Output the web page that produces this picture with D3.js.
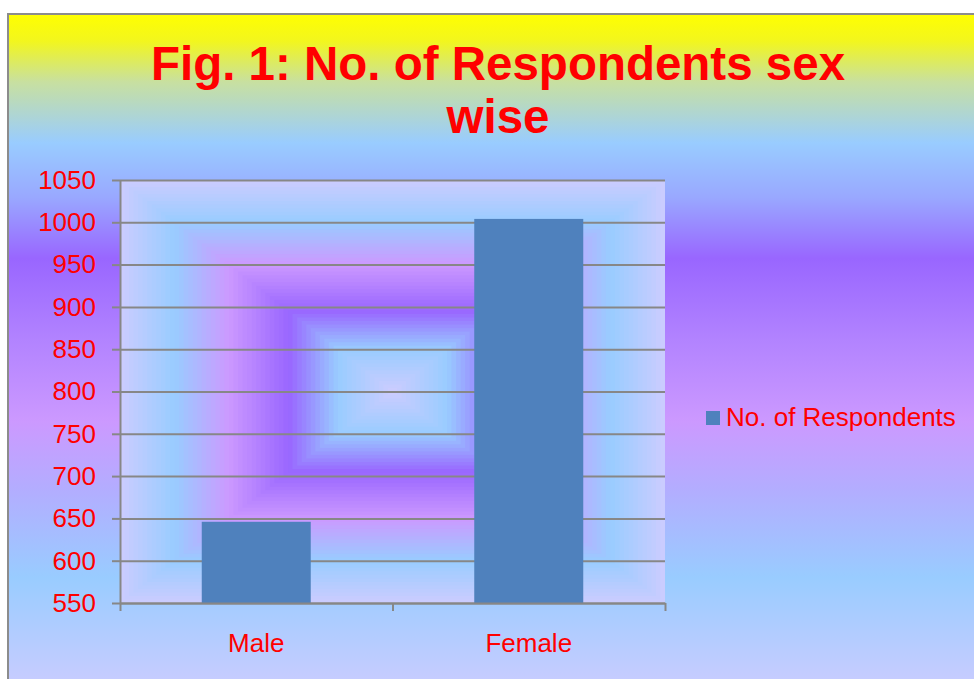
<!DOCTYPE html>
<html>
<head>
<meta charset="utf-8">
<script src="https://cdn.jsdelivr.net/npm/d3@7"></script>
<style>
  html, body { margin: 0; padding: 0; background: #fff; }
  svg { display: block; font-family: "Liberation Sans", Arial, sans-serif; }
</style>
</head>
<body>
<svg id="chart" width="974" height="679"></svg>
<script>
const categories = ["Male", "Female"];
const respondents = [646, 1004];
const seriesName = "No. of Respondents";
const yTicks = [550, 600, 650, 700, 750, 800, 850, 900, 950, 1000, 1050];
const titleLines = ["Fig. 1: No. of Respondents sex", "wise"];

function renderChart() {
    const svg = d3.select("#chart");
    svg.selectAll("*").remove();

    const width = 974, height = 679;
    const plot = { left: 120, right: 665, top: 180, bottom: 603 };

    const defs = svg.append("defs");

    // outer chart background, vertical multi-stop gradient
    const bg = defs.append("linearGradient")
        .attr("id", "bgGrad")
        .attr("x1", 0).attr("y1", 0).attr("x2", 0).attr("y2", 1);
    const bgStops = [
        [0.00, "#FFFF00"],
        [0.04, "#F2F61E"],
        [0.10, "#C8E0A0"],
        [0.19, "#99CCFF"],
        [0.27, "#99A8FF"],
        [0.36, "#9966FF"],
        [0.48, "#B283FF"],
        [0.60, "#CC99FF"],
        [0.70, "#B3ADFF"],
        [0.83, "#99CCFF"],
        [1.00, "#CCCCFF"]
    ];
    bgStops.forEach(s => bg.append("stop").attr("offset", s[0]).attr("stop-color", s[1]));

    svg.append("rect")
        .attr("x", 8).attr("y", 14)
        .attr("width", width).attr("height", height)
        .attr("fill", "url(#bgGrad)")
        .attr("stroke", "#8c8c8c")
        .attr("stroke-width", 2);

    // plot area: rectangular "box" gradient made of nested rects
    const ringColor = d3.scaleLinear()
        .domain([0, 0.2, 0.38, 0.6, 0.8, 1])
        .range(["#CCCCFF", "#99CCFF", "#9966FF", "#CC99FF", "#99CCFF", "#CCCCFF"])
        .interpolate(d3.interpolateRgb);
    const cx = (plot.left + plot.right) / 2, cy = (plot.top + plot.bottom) / 2;
    const hw = (plot.right - plot.left) / 2, hh = (plot.bottom - plot.top) / 2;
    const rings = d3.range(60, 0, -1).map(i => i / 60);
    svg.append("g").selectAll("rect")
        .data(rings)
        .enter().append("rect")
        .attr("x", t => cx - t * hw)
        .attr("y", t => cy - t * hh)
        .attr("width", t => 2 * t * hw)
        .attr("height", t => 2 * t * hh)
        .attr("fill", t => ringColor(t - 1 / 120));

    const x = d3.scaleBand()
        .domain(categories)
        .range([plot.left, plot.right])
        .paddingInner(0.6)
        .paddingOuter(0.3);

    const y = d3.scaleLinear()
        .domain([d3.min(yTicks), d3.max(yTicks)])
        .range([plot.bottom, plot.top]);

    // gridlines
    svg.append("g")
        .attr("transform", `translate(${plot.left},0)`)
        .call(d3.axisLeft(y).tickValues(yTicks).tickSize(-(plot.right - plot.left)).tickFormat(""))
        .call(g => g.select(".domain").remove())
        .call(g => g.selectAll("line").attr("stroke", "#878787").attr("stroke-width", 2));

    // bars
    svg.append("g").selectAll(".bar")
        .data(categories)
        .enter().append("rect")
        .attr("class", "bar")
        .attr("x", d => x(d))
        .attr("y", (d, i) => y(respondents[i]))
        .attr("width", x.bandwidth())
        .attr("height", (d, i) => plot.bottom - y(respondents[i]))
        .attr("fill", "#4F81BD");

    // y axis
    const yAxis = svg.append("g")
        .attr("transform", `translate(${plot.left},0)`)
        .call(d3.axisLeft(y).tickValues(yTicks).tickFormat(d3.format("d"))
            .tickSize(8).tickPadding(16).tickSizeOuter(0));
    yAxis.select(".domain").attr("stroke", "#878787").attr("stroke-width", 2);
    yAxis.selectAll("line").attr("stroke", "#878787").attr("stroke-width", 2);
    yAxis.selectAll("text")
        .attr("fill", "#FF0000")
        .attr("font-size", "26px")
        .attr("font-family", "Liberation Sans, Arial, sans-serif");

    // x axis (ticks between categories)
    const xEdges = d3.scaleLinear().domain([0, categories.length]).range([plot.left, plot.right]);
    const xAxis = svg.append("g")
        .attr("transform", `translate(0,${plot.bottom})`)
        .call(d3.axisBottom(xEdges).tickValues(d3.range(categories.length + 1)).tickSize(8).tickFormat("").tickSizeOuter(0));
    xAxis.select(".domain").attr("stroke", "#878787").attr("stroke-width", 2);
    xAxis.selectAll("line").attr("stroke", "#878787").attr("stroke-width", 2);

    svg.append("g").selectAll(".catLabel")
        .data(categories)
        .enter().append("text")
        .attr("class", "catLabel")
        .attr("x", d => x(d) + x.bandwidth() / 2)
        .attr("y", 652)
        .attr("text-anchor", "middle")
        .attr("fill", "#FF0000")
        .attr("font-size", "26px")
        .text(d => d);

    // title
    svg.append("g").selectAll(".title")
        .data(titleLines)
        .enter().append("text")
        .attr("class", "title")
        .attr("x", 498)
        .attr("y", (d, i) => 80 + i * 53)
        .attr("text-anchor", "middle")
        .attr("fill", "#FF0000")
        .attr("font-size", "47.5px")
        .attr("font-weight", "bold")
        .text(d => d);

    // legend
    const legend = svg.append("g").attr("transform", "translate(706,411)");
    legend.append("rect")
        .attr("width", 14).attr("height", 14)
        .attr("fill", "#4F81BD");
    legend.append("text")
        .attr("x", 20).attr("y", 15)
        .attr("fill", "#FF0000")
        .attr("font-size", "26px")
        .text(seriesName);
}

renderChart();
</script>
</body>
</html>
